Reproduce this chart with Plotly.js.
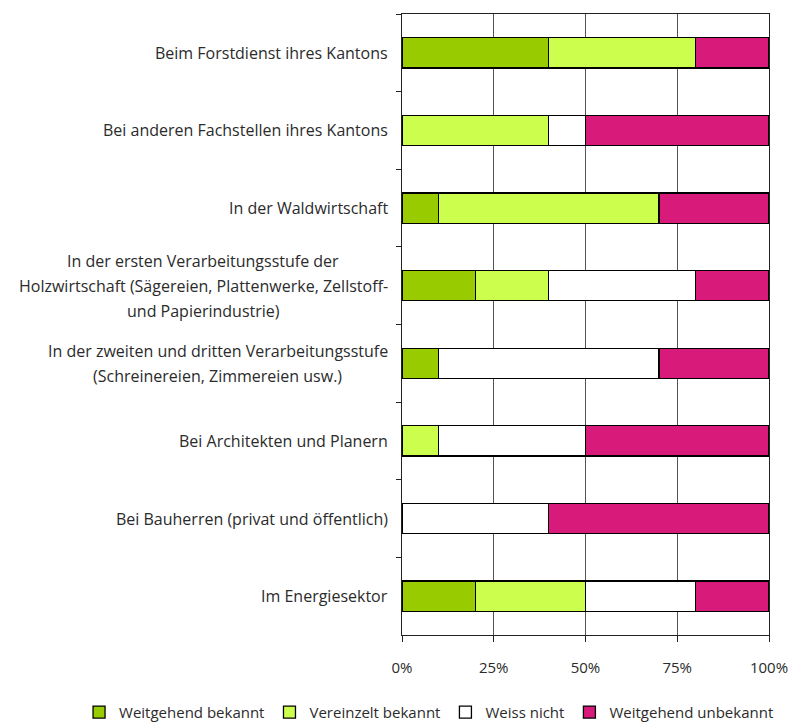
<!DOCTYPE html>
<html>
<head>
<meta charset="utf-8">
<script src="https://cdn.plot.ly/plotly-3.0.1.min.js"></script>
<style>html,body{margin:0;padding:0;background:#fff;}#chart{width:792px;height:722px;}</style>
</head>
<body>
<div id="chart"></div>
<script>
const categories = [
  "Beim Forstdienst ihres Kantons",
  "Bei anderen Fachstellen ihres Kantons",
  "In der Waldwirtschaft",
  "In der ersten Verarbeitungsstufe der<br>Holzwirtschaft (Sägereien, Plattenwerke, Zellstoff-<br>und Papierindustrie)",
  "In der zweiten und dritten Verarbeitungsstufe<br>(Schreinereien, Zimmereien usw.)",
  "Bei Architekten und Planern",
  "Bei Bauherren (privat und öffentlich)",
  "Im Energiesektor"
];
const seriesNames = ["Weitgehend bekannt", "Vereinzelt bekannt", "Weiss nicht", "Weitgehend unbekannt"];
const weitgehendBekannt   = [40, 0, 10, 20, 10, 0, 0, 20];
const vereinzeltBekannt   = [40, 40, 60, 20, 0, 10, 0, 30];
const weissNicht          = [0, 10, 0, 40, 60, 40, 40, 30];
const weitgehendUnbekannt = [20, 50, 30, 20, 30, 50, 60, 20];
const xTickVals = [0, 25, 50, 75, 100];
const xTickText = ["0%", "25%", "50%", "75%", "100%"];

const colors = ["#99cc00", "#ccff4d", "#ffffff", "#d81b7b"];
const values = [weitgehendBekannt, vereinzeltBekannt, weissNicht, weitgehendUnbekannt];

const FONT = "'Open Sans', Lato, sans-serif";
const LABEL_SIZE = 16;
const LINE_GAP = 25;
const TEXT_COLOR = "#2b2b2b";

const traces = values.map((v, i) => ({
  type: "bar",
  orientation: "h",
  name: seriesNames[i],
  x: v,
  y: categories,
  marker: {color: colors[i], line: {color: "#000", width: 1.3}},
  hoverinfo: "x+name"
}));

// measure text widths to centre multi-line labels
const cv = document.createElement("canvas").getContext("2d");
cv.font = LABEL_SIZE + "px 'Open Sans'";
const annotations = [];
categories.forEach(c => {
  const lines = c.split("<br>");
  const widths = lines.map(l => cv.measureText(l).width);
  const W = Math.max.apply(null, widths);
  const n = lines.length;
  lines.forEach((l, i) => {
    annotations.push({
      x: 0, xref: "paper", xanchor: "center", xshift: -14 - W / 2,
      y: c, yref: "y", yanchor: "middle",
      yshift: ((n - 1) / 2 - i) * LINE_GAP,
      text: l, showarrow: false, align: "center",
      font: {family: FONT, size: LABEL_SIZE, color: TEXT_COLOR}
    });
  });
});

const layout = {
  width: 792, height: 722,
  margin: {l: 402, r: 23, t: 14, b: 87, autoexpand: false},
  barmode: "stack",
  bargap: 0.61,
  paper_bgcolor: "#fff", plot_bgcolor: "#fff",
  font: {family: FONT, size: 15, color: TEXT_COLOR},
  showlegend: true,
  legend: {orientation: "h", x: -0.88, xanchor: "left", y: -0.098, yanchor: "top",
           font: {family: FONT, size: 15, color: TEXT_COLOR}, traceorder: "normal",
           itemwidth: 30, tracegroupgap: 0},
  xaxis: {
    range: [0, 100], tickvals: xTickVals, ticktext: xTickText,
    showgrid: true, gridcolor: "#555", gridwidth: 1,
    showline: true, linecolor: "#222", linewidth: 1, mirror: true,
    ticks: "outside", ticklen: 6, tickcolor: "#222",
    ticklabelstandoff: 13, zeroline: false,
    tickfont: {family: FONT, size: 15, color: TEXT_COLOR}
  },
  yaxis: {
    type: "category", autorange: "reversed",
    showticklabels: false, tickson: "boundaries",
    ticks: "outside", ticklen: 5, tickcolor: "#222",
    showline: true, linecolor: "#222", linewidth: 1, mirror: true,
    showgrid: false, zeroline: false
  },
  annotations: annotations
};

Plotly.newPlot("chart", traces, layout, {displayModeBar: false, staticPlot: true});
</script>
</body>
</html>
